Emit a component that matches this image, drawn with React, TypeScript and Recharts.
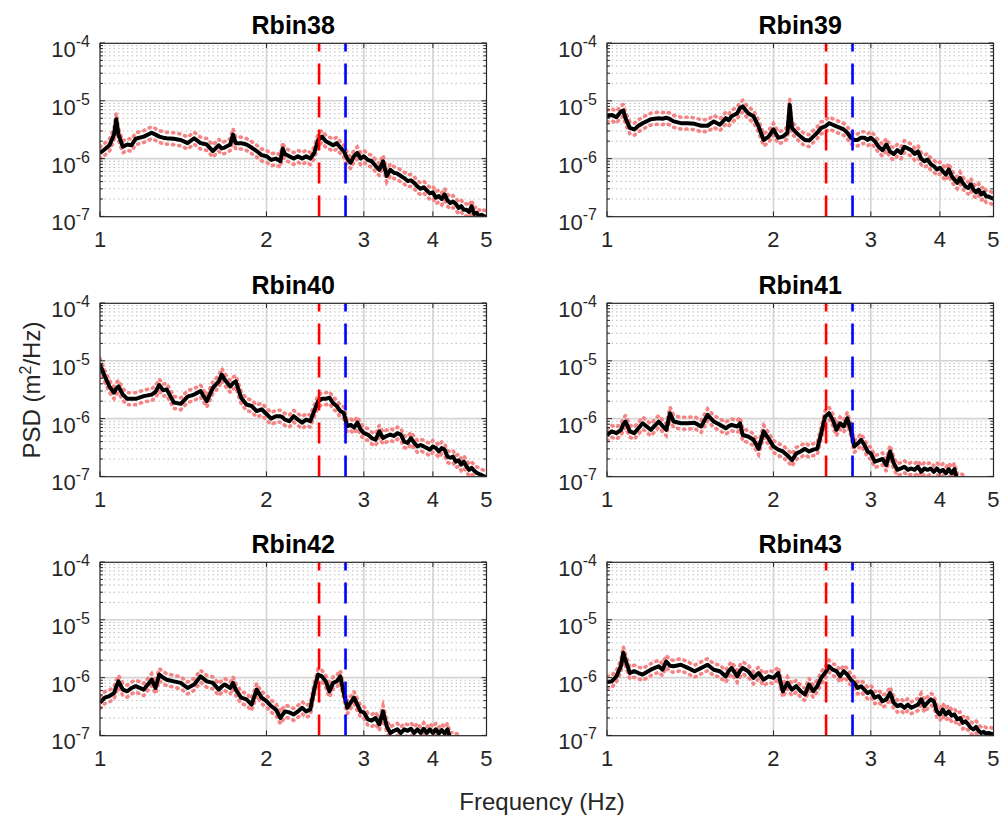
import React from 'react';
import { LineChart, Line, XAxis, YAxis, ReferenceLine } from 'recharts';

// frequency axis (Hz), shared by all six panels
const FREQ = [
  1.0, 1.02, 1.04, 1.06, 1.07, 1.08, 1.1, 1.12, 1.14, 1.16,
  1.2, 1.24, 1.26, 1.28, 1.3, 1.32,
  1.36, 1.4, 1.44, 1.48, 1.52, 1.56, 1.6, 1.64,
  1.66, 1.68, 1.72, 1.74, 1.76,
  1.8, 1.84, 1.88, 1.92, 1.96, 2.0,
  2.04, 2.08, 2.12, 2.14, 2.16,
  2.2, 2.24, 2.28, 2.32, 2.36, 2.4, 2.44, 2.48,
  2.52, 2.56, 2.6, 2.64, 2.68, 2.72, 2.76, 2.8,
  2.84, 2.88, 2.92, 2.96, 3.0,
  3.05, 3.1, 3.15, 3.2, 3.25, 3.3, 3.35, 3.4, 3.45, 3.5,
  3.55, 3.6, 3.65, 3.7, 3.75, 3.8, 3.85, 3.9, 3.95, 4.0,
  4.05, 4.1, 4.15, 4.2, 4.25, 4.3, 4.35, 4.4, 4.45, 4.5,
  4.55, 4.6, 4.65, 4.7, 4.75, 4.8, 4.85, 4.9, 4.95, 5.0,
];

// PSD estimates, in 1e-6 m^2/Hz
const RBIN38 = [
  1.25, 1.45, 1.7, 2.6, 4.8, 2.6, 1.6, 1.75, 1.7, 2.2,
  2.4, 2.8, 2.6, 2.4, 2.3, 2.25,
  2.2, 2.1, 1.85, 2.25, 1.85, 1.75, 1.35, 1.7,
  1.5, 1.55, 1.75, 2.6, 1.85,
  1.85, 1.75, 1.55, 1.35, 1.15, 1.1,
  0.95, 1.0, 0.9, 1.5, 1.2,
  1.1, 1.0, 1.1, 1.0, 1.1, 1.0, 1.25, 2.1,
  2.4, 2.0, 1.85, 1.7, 1.85, 1.55, 1.35, 1.0,
  0.85, 1.1, 1.25, 1.0, 1.1,
  0.95, 0.9, 0.75, 0.64, 0.9, 0.5, 0.64, 0.57, 0.55, 0.5,
  0.46, 0.41, 0.42, 0.38, 0.33, 0.3, 0.32, 0.28, 0.25, 0.26,
  0.21, 0.225, 0.2, 0.24, 0.19, 0.17, 0.18, 0.165, 0.14, 0.15,
  0.13, 0.13, 0.12, 0.15, 0.11, 0.115, 0.1, 0.107, 0.1, 0.1,
];

const RBIN39 = [
  5.4, 5.7, 5.2, 6.5, 6.8, 5.0, 3.4, 3.2, 3.7, 4.1,
  4.8, 5.0, 4.9, 5.1, 4.8, 4.4,
  4.1, 4.1, 4.0, 3.7, 3.7, 4.4, 3.85, 5.0,
  4.6, 5.4, 6.1, 7.5, 8.0,
  6.1, 5.4, 3.6, 2.1, 2.4, 3.2,
  2.3, 2.4, 2.8, 8.5, 3.4,
  2.8, 2.4, 2.1, 2.05, 2.4, 2.8, 3.4, 3.6,
  4.1, 3.85, 3.6, 3.4, 3.2, 2.8, 2.3, 2.1,
  2.1, 2.3, 2.3, 2.1, 2.3,
  2.0, 1.6, 1.4, 1.75, 1.33, 1.2, 1.4, 1.25, 1.6, 1.5,
  1.4, 1.2, 1.33, 1.0, 0.9, 0.96, 0.8, 0.74, 0.65, 0.69,
  0.6, 0.53, 0.65, 0.5, 0.43, 0.38, 0.46, 0.38, 0.33, 0.31,
  0.36, 0.29, 0.26, 0.29, 0.24, 0.26, 0.22, 0.22, 0.21, 0.2,
];

const RBIN40 = [
  8.6, 5.4, 3.6, 2.8, 3.3, 3.6, 2.6, 2.2, 2.2, 2.2,
  2.45, 2.6, 2.9, 3.8, 3.1, 3.2,
  1.9, 1.8, 2.4, 2.6, 3.0, 2.0, 3.4, 4.4,
  5.8, 4.75, 3.6, 4.1, 4.4,
  2.3, 1.75, 1.65, 1.35, 1.45, 1.2,
  1.0, 1.1, 1.1, 1.05, 0.96,
  0.9, 1.1, 0.96, 0.85, 0.96, 0.9, 1.35, 2.0,
  2.2, 2.2, 2.3, 1.85, 1.65, 1.35, 1.25, 0.74,
  0.78, 0.7, 0.85, 0.65, 0.56,
  0.53, 0.46, 0.43, 0.6, 0.46, 0.5, 0.53, 0.5, 0.56, 0.53,
  0.4, 0.38, 0.46, 0.38, 0.33, 0.35, 0.33, 0.31, 0.29, 0.33,
  0.31, 0.27, 0.31, 0.29, 0.22, 0.21, 0.22, 0.18, 0.19, 0.16,
  0.18, 0.15, 0.13, 0.14, 0.125, 0.115, 0.11, 0.105, 0.1, 0.097,
];

const RBIN41 = [
  0.52, 0.6, 0.56, 0.64, 0.8, 0.89, 0.6, 0.56, 0.68, 0.83,
  0.64, 0.89, 0.75, 0.64, 1.24, 0.89,
  0.83, 0.83, 0.85, 0.73, 1.16, 0.89, 0.78, 0.68,
  0.74, 0.78, 0.73, 0.83, 0.52,
  0.49, 0.43, 0.3, 0.6, 0.45, 0.33,
  0.29, 0.27, 0.23, 0.21, 0.19,
  0.25, 0.27, 0.3, 0.27, 0.29, 0.3, 0.56, 1.08,
  1.24, 0.95, 0.64, 0.83, 0.73, 1.01, 0.64, 0.33,
  0.37, 0.43, 0.35, 0.27, 0.25,
  0.18, 0.19, 0.2, 0.157, 0.27, 0.17, 0.13, 0.137, 0.147, 0.13,
  0.137, 0.13, 0.147, 0.12, 0.137, 0.13, 0.137, 0.12, 0.137, 0.12,
  0.13, 0.113, 0.133, 0.113, 0.133, 0.086, 0.09, 0.084, 0.082, null,
  null, null, null, null, null, null, null, null, null, null,
];

const RBIN42 = [
  0.37, 0.45, 0.48, 0.54, 0.7, 0.86, 0.62, 0.58, 0.66, 0.71,
  0.62, 0.92, 0.66, 1.13, 1.0, 0.92,
  0.86, 0.81, 0.66, 0.76, 1.05, 0.86, 0.81, 0.62,
  0.7, 0.76, 0.66, 0.81, 0.62,
  0.45, 0.42, 0.34, 0.62, 0.45, 0.39,
  0.32, 0.28, 0.2, 0.23, 0.26,
  0.25, 0.23, 0.26, 0.3, 0.26, 0.28, 0.62, 1.13,
  1.05, 0.86, 0.58, 0.81, 0.86, 1.05, 0.54, 0.3,
  0.37, 0.45, 0.34, 0.26, 0.25,
  0.19, 0.18, 0.2, 0.155, 0.26, 0.145, 0.11, 0.12, 0.127, 0.11,
  0.127, 0.12, 0.13, 0.11, 0.127, 0.11, 0.13, 0.11, 0.127, 0.11,
  0.127, 0.108, 0.124, 0.108, 0.127, 0.086, 0.09, 0.084, 0.082, null,
  null, null, null, null, null, null, null, null, null, null,
];

const RBIN43 = [
  0.83, 0.86, 1.05, 1.6, 2.7, 2.0, 1.2, 1.29, 1.2, 1.13,
  1.37, 1.57, 1.37, 1.9, 1.6, 1.57,
  1.67, 1.47, 1.29, 1.47, 1.67, 1.37, 1.29, 1.05,
  1.3, 1.47, 1.05, 1.3, 1.47,
  1.29, 0.99, 1.2, 0.92, 1.05, 0.99,
  1.2, 0.58, 0.81, 0.7, 0.62,
  0.71, 0.58, 0.51, 0.76, 0.58, 0.71, 0.99, 1.2,
  1.57, 1.37, 1.29, 1.05, 1.29, 1.13, 0.92, 0.81,
  0.66, 0.71, 0.62, 0.54, 0.58,
  0.45, 0.48, 0.39, 0.42, 0.54, 0.37, 0.32, 0.34, 0.3, 0.34,
  0.3, 0.32, 0.34, 0.42, 0.32, 0.37, 0.42, 0.39, 0.26, 0.23,
  0.28, 0.23, 0.26, 0.22, 0.23, 0.19, 0.2, 0.165, 0.175, 0.155,
  0.135, 0.127, 0.14, 0.12, 0.11, 0.115, 0.107, 0.11, 0.107, 0.105,
];

const TITLES = ['Rbin38', 'Rbin39', 'Rbin40', 'Rbin41', 'Rbin42', 'Rbin43'];
const SERIES = [RBIN38, RBIN39, RBIN40, RBIN41, RBIN42, RBIN43];

const UNIT = 1e-6;
// confidence bounds as ratio of the estimate
const CI_HI = 1.27;
const CI_LO = 0.79;

const F_RED = 2.49;
const F_BLUE = 2.78;

const X_TICKS = [1, 2, 3, 4, 5];
const Y_DECADES = [1e-7, 1e-6, 1e-5, 1e-4];
const Y_EXP = ['-7', '-6', '-5', '-4'];
const Y_MINOR = [1e-7, 1e-6, 1e-5].flatMap((d) => [2, 3, 4, 5, 6, 7, 8, 9].map((m) => m * d));
const Y_TICKS = [...Y_DECADES, ...Y_MINOR].sort((a, b) => a - b);

// layout
const PLOT_W = 386.5;
const PLOT_H = 173.4;
const COL_X = [100, 607];
const ROW_Y = [43.3, 303.3, 562.3];
const PL = 100;
const PT = 40;
const PR = 6;
const PB = 40;
const CW = PL + PLOT_W + PR;
const CH = PT + PLOT_H + PB;

const FONT = '"Liberation Sans", Arial, Helvetica, sans-serif';
const AXIS = '#262626';
const PINK = '#f58585';

const buildRows = (vals: (number | null)[]) =>
  FREQ.map((f, i) => {
    const v = vals[i];
    return {
      f,
      psd: v == null ? null : v * UNIT,
      hi: v == null ? null : v * UNIT * CI_HI,
      lo: v == null ? null : v * UNIT * CI_LO,
    };
  });

const YTick = (props: any) => {
  const { y, payload } = props;
  const idx = Y_DECADES.findIndex((d) => Math.abs(payload.value - d) / d < 1e-6);
  const len = idx >= 0 ? 5 : 3;
  return (
    <g>
      <line x1={PL} x2={PL + len} y1={y} y2={y} stroke={AXIS} strokeWidth={1} />
      <line x1={PL + PLOT_W - len} x2={PL + PLOT_W} y1={y} y2={y} stroke={AXIS} strokeWidth={1} />
      {idx >= 0 && (
        <text x={PL - 10} y={y + 14} textAnchor="end" fontFamily={FONT} fontSize={22} fill={AXIS}>
          <tspan>10</tspan>
          <tspan dy={-10} fontSize={16}>{Y_EXP[idx]}</tspan>
        </text>
      )}
    </g>
  );
};

const XTick = (props: any) => {
  const { x, payload } = props;
  const bottom = PT + PLOT_H;
  return (
    <g>
      <line x1={x} x2={x} y1={bottom} y2={bottom - 5} stroke={AXIS} strokeWidth={1} />
      <line x1={x} x2={x} y1={PT} y2={PT + 5} stroke={AXIS} strokeWidth={1} />
      <text x={x} y={bottom + 31} textAnchor="middle" fontFamily={FONT} fontSize={22} fill={AXIS}>
        {payload.value}
      </text>
    </g>
  );
};

const Panel = ({ values, left, top }: { values: (number | null)[]; left: number; top: number }) => {
  const rows = buildRows(values);
  return (
    <div style={{ position: 'absolute', left: left - PL, top: top - PT }}>
      <LineChart width={CW} height={CH} data={rows} margin={{ top: PT, right: PR, bottom: 0, left: 0 }}>
        <XAxis
          dataKey="f"
          type="number"
          scale="log"
          domain={[1, 5]}
          ticks={X_TICKS}
          interval={0}
          allowDataOverflow
          height={PB}
          axisLine={false}
          tickLine={false}
          tick={(p: any) => <XTick {...p} />}
        />
        <YAxis
          type="number"
          scale="log"
          domain={[1e-7, 1e-4]}
          ticks={Y_TICKS}
          interval={0}
          allowDataOverflow
          width={PL}
          axisLine={false}
          tickLine={false}
          tick={(p: any) => <YTick {...p} />}
        />
        {Y_MINOR.map((v) => (
          <ReferenceLine key={'ym' + v} y={v} stroke="#bdbdbd" strokeWidth={1} strokeDasharray="1.5 3" zIndex={-100} />
        ))}
        {[1e-6, 1e-5].map((v) => (
          <ReferenceLine key={'yM' + v} y={v} stroke="#d4d4d4" strokeWidth={1.6} zIndex={-100} />
        ))}
        {[2, 3, 4].map((v) => (
          <ReferenceLine key={'xM' + v} x={v} stroke="#d4d4d4" strokeWidth={1.6} zIndex={-100} />
        ))}
        <Line dataKey="hi" stroke={PINK} strokeWidth={3.6} strokeDasharray="1.2 5" strokeLinecap="round" dot={false} isAnimationActive={false} />
        <Line dataKey="lo" stroke={PINK} strokeWidth={3.6} strokeDasharray="1.2 5" strokeLinecap="round" dot={false} isAnimationActive={false} />
        <Line dataKey="psd" stroke="#000000" strokeWidth={4} strokeLinejoin="round" dot={false} isAnimationActive={false} />
        <ReferenceLine x={F_RED} stroke="#ff0000" strokeWidth={2.6} strokeDasharray="21 12" zIndex={1000} />
        <ReferenceLine x={F_BLUE} stroke="#0000ff" strokeWidth={2.6} strokeDasharray="21 12" zIndex={1000} />
      </LineChart>
    </div>
  );
};

export default function App() {
  return (
    <div style={{ position: 'absolute', left: 0, top: 0, width: 1000, height: 819, background: '#ffffff', overflow: 'hidden' }}>
      {SERIES.map((vals, i) => (
        <Panel key={TITLES[i]} values={vals} left={COL_X[i % 2]} top={ROW_Y[Math.floor(i / 2)]} />
      ))}
      <svg width={1000} height={819} style={{ position: 'absolute', left: 0, top: 0, pointerEvents: 'none' }}>
        {TITLES.map((t, i) => {
          const x = COL_X[i % 2];
          const y = ROW_Y[Math.floor(i / 2)];
          return (
            <g key={t}>
              <rect x={x} y={y} width={PLOT_W} height={PLOT_H} fill="none" stroke={AXIS} strokeWidth={1.2} />
              <text x={x + PLOT_W / 2} y={y - 9} textAnchor="middle" fontFamily={FONT} fontSize={25} fontWeight="bold" fill="#000">
                {t}
              </text>
            </g>
          );
        })}
        <text x={40} y={390} transform="rotate(-90 40 390)" textAnchor="middle" fontFamily={FONT} fontSize={24} fill={AXIS}>
          <tspan>PSD (m</tspan>
          <tspan dy={-9} fontSize={16}>2</tspan>
          <tspan dy={9}>/Hz)</tspan>
        </text>
        <text x={542} y={810} textAnchor="middle" fontFamily={FONT} fontSize={24} fill={AXIS}>
          Frequency (Hz)
        </text>
      </svg>
    </div>
  );
}
